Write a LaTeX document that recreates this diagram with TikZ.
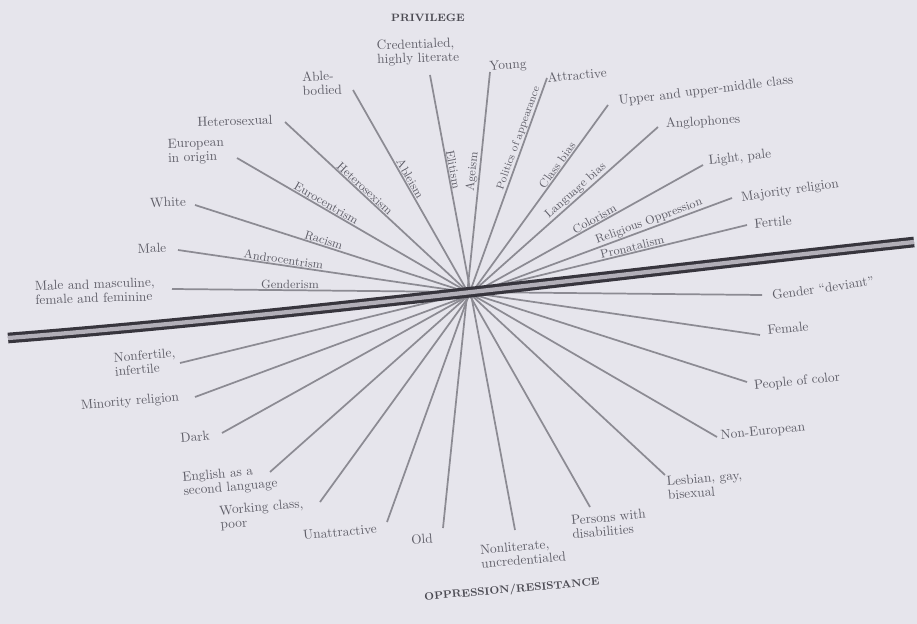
\documentclass[tikz,border=0pt]{standalone}
\definecolor{bg}{RGB}{230,229,236}
\definecolor{raygray}{RGB}{140,139,147}
\definecolor{labgray}{RGB}{95,94,104}
\definecolor{bardark}{RGB}{55,53,61}
\definecolor{barlight}{RGB}{178,175,184}
\begin{document}
\begin{tikzpicture}[x=0.75pt,y=0.75pt,
  ray/.style={draw=raygray, line width=1.3pt},
  lab/.style={text=labgray, font=\fontsize{10}{10.5}\selectfont, inner sep=1pt, align=left},
  axislab/.style={sloped, above, text=labgray, font=\fontsize{9}{10}\selectfont, inner sep=0.5pt},
  headlab/.style={text=labgray!80!black, font=\fontsize{8}{9}\selectfont\bfseries, inner sep=1pt}]
\fill[bg] (0,0) rectangle (917,-624);
\useasboundingbox (0,0) rectangle (917,-624);

% line end points (top / privilege side)
\coordinate (t1) at (172,-289);
\coordinate (t2) at (178,-250);
\coordinate (t3) at (195,-205);
\coordinate (t4) at (237,-158);
\coordinate (t5) at (285,-122);
\coordinate (t6) at (353,-90);
\coordinate (t7) at (430,-75);
\coordinate (t8) at (490,-72);
\coordinate (t9) at (547,-78);
\coordinate (t10) at (608,-105);
\coordinate (t11) at (658,-127);
\coordinate (t12) at (703,-165);
\coordinate (t13) at (732,-198);
\coordinate (t14) at (747,-225);
% line end points (bottom / oppression side)
\coordinate (b1) at (762,-295);
\coordinate (b2) at (760,-335);
\coordinate (b3) at (747,-382);
\coordinate (b4) at (717,-437);
\coordinate (b5) at (665,-475);
\coordinate (b6) at (590,-507);
\coordinate (b7) at (515,-530);
\coordinate (b8) at (443,-528);
\coordinate (b9) at (387,-522);
\coordinate (b10) at (320,-502);
\coordinate (b11) at (270,-472);
\coordinate (b12) at (222,-433);
\coordinate (b13) at (195,-397);
\coordinate (b14) at (180,-363);

% rays with axis names
\draw[ray] (t1) -- node[axislab, pos=0.20] {Genderism} (b1);
\draw[ray] (t2) -- node[axislab, pos=0.18] {Androcentrism} (b2);
\draw[ray] (t3) -- node[axislab, pos=0.23] {Racism} (b3);
\draw[ray] (t4) -- node[axislab, pos=0.18] {Eurocentrism} (b4);
\draw[ray] (t5) -- node[axislab, pos=0.20] {Heterosexism} (b5);
\draw[ray] (t6) -- node[axislab, pos=0.22] {Ableism} (b6);
\draw[ray] (t7) -- node[axislab, pos=0.21] {Elitism} (b7);
\draw[ray] (t8) -- node[axislab, pos=0.22] {Ageism} (b8);
\draw[ray] (t9) -- node[axislab, pos=0.14, font=\fontsize{8}{9}\selectfont] {Politics of appearance} (b9);
\draw[ray] (t10) -- node[axislab, pos=0.16] {Class bias} (b10);
\draw[ray] (t11) -- node[axislab, pos=0.20] {Language bias} (b11);
\draw[ray] (t12) -- node[axislab, pos=0.22] {Colorism} (b12);
\draw[ray] (t13) -- node[axislab, pos=0.15] {Religious Oppression} (b13);
\draw[ray] (t14) -- node[axislab, pos=0.20] {Pronatalism} (b14);

% the horizon (double bar)
\coordinate (hl) at (8,-338);
\coordinate (hr) at (914,-242);
\draw[draw=bardark, line width=2.4pt, double=barlight, double distance=3.2pt]
  (hl) .. controls (300,-315) and (600,-276) .. (hr);

% privilege-side labels
\node[headlab] (priv) at (428,-18) {PRIVILEGE};
\node[lab, rotate=2] (l1) at (95,-291) {Male and masculine,\\female and feminine};
\node[lab, rotate=2] (l2) at (152,-248) {Male};
\node[lab, rotate=2] (l3) at (168,-202) {White};
\node[lab, rotate=2] (l4) at (196,-151) {European\\in origin};
\node[lab, rotate=2] (l5) at (235,-121) {Heterosexual};
\node[lab, rotate=2] (l6) at (322,-83) {Able-\\bodied};
\node[lab, rotate=2] (l7) at (418,-52) {Credentialed,\\highly literate};
\node[lab, rotate=3] (l8) at (508,-66) {Young};
\node[lab, rotate=5] (l9) at (577,-75) {Attractive};
\node[lab, rotate=7] (l10) at (706,-91) {Upper and upper-middle class};
\node[lab, rotate=4] (l11) at (703,-122) {Anglophones};
\node[lab, rotate=6] (l12) at (740,-158) {Light, pale};
\node[lab, rotate=8] (l13) at (790,-191) {Majority religion};
\node[lab, rotate=5] (l14) at (773,-222) {Fertile};

% oppression-side labels
\node[lab, rotate=8] (r1) at (823,-288) {Gender ``deviant''};
\node[lab, rotate=6] (r2) at (788,-328) {Female};
\node[lab, rotate=6] (r3) at (797,-382) {People of color};
\node[lab, rotate=6] (r4) at (763,-432) {Non-European};
\node[lab, rotate=5] (r5) at (705,-485) {Lesbian, gay,\\bisexual};
\node[lab, rotate=5] (r6) at (609,-524) {Persons with\\disabilities};
\node[lab, rotate=5] (r7) at (523,-553) {Nonliterate,\\uncredentialed};
\node[lab, rotate=4] (r8) at (422,-539) {Old};
\node[lab, rotate=5] (r9) at (340,-532) {Unattractive};
\node[lab, rotate=5] (r10) at (262,-515) {Working class,\\poor};
\node[lab, rotate=5] (r11) at (230,-481) {English as a\\second language};
\node[lab, rotate=5] (r12) at (195,-437) {Dark};
\node[lab, rotate=5] (r13) at (130,-402) {Minority religion};
\node[lab, rotate=5] (r14) at (145,-362) {Nonfertile,\\infertile};
\node[headlab, rotate=5] (opp) at (512,-590) {OPPRESSION/RESISTANCE};
\end{tikzpicture}
\end{document}
